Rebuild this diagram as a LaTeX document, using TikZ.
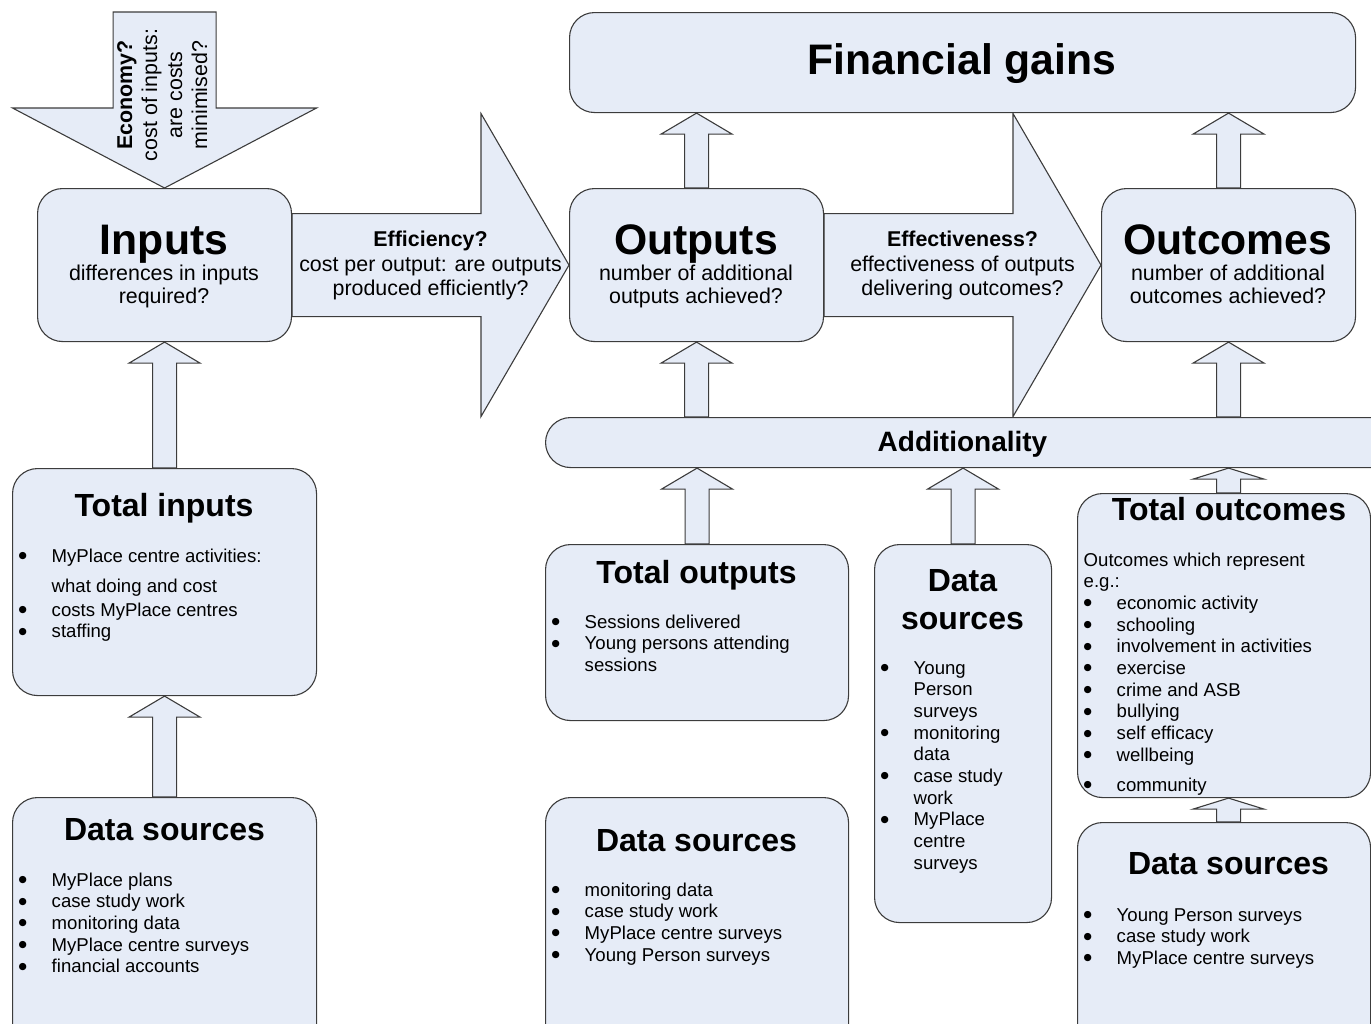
\documentclass[tikz,border=0pt]{standalone}
\usepackage{fontspec}
\setmainfont{Liberation Sans}
\newfontfamily\symfont{DejaVu Sans}
\usepackage{xcolor}
\usepackage{tikz}
\usetikzlibrary{positioning,calc,backgrounds}
\definecolor{clrFill}{HTML}{E6ECF7}
\definecolor{clrLine}{HTML}{3C3C3C}
\newcommand{\bul}{\makebox[33pt][l]{\raisebox{3.6pt}{\symfont\fontsize{9.5}{10}\selectfont ●}}}
\newcommand{\ind}{\hspace*{33pt}}
\newcommand{\stack}[1]{\begin{tabular}[t]{@{}c@{}}#1\end{tabular}}
\newcommand{\blist}[1]{\begin{tabular}[t]{@{}l@{}}#1\end{tabular}}
% Blockpfeil nach oben: #2 Spitze, #3 Fuss, #1 Kopfhoehe
\newcommand{\blockup}[3][21]{%
  \draw[blk] (#2) -- ++(35.5,#1) -- ++(-23.5,0)
    -- ($(#3 -| #2)+(12,0)$) -- ($(#3 -| #2)+(-12,0)$)
    -- ($(#2)+(-12,#1)$) -- ++(-23.5,0) -- cycle;}
% Blockpfeil nach rechts: von #1 bis Spitze #2
\newcommand{\blockright}[2]{%
  \draw[blk] ($(#1)+(0,-51.5)$) -- ($(#2)+(-88,-51.5)$) -- ++(0,-100)
    -- (#2) -- ($(#2)+(-88,151.5)$) -- ++(0,-100)
    -- ($(#1)+(0,51.5)$) -- cycle;}
\tikzset{
  box/.style={rectangle, rounded corners=25pt, draw=clrLine, line width=1.1pt,
    fill=clrFill, anchor=north west, inner sep=0pt},
  blk/.style={draw=clrLine, line width=1.1pt, fill=clrFill},
  bigttl/.style={font=\fontsize{42.7}{48}\selectfont\bfseries, anchor=base, inner sep=0pt},
  ttl/.style={font=\fontsize{32}{38}\selectfont\bfseries, anchor=base, inner sep=0pt},
  midttl/.style={font=\fontsize{28}{32}\selectfont\bfseries, anchor=base, inner sep=0pt},
  sub/.style={font=\fontsize{21.4}{23}\selectfont, anchor=base, inner sep=0pt},
  arrtxt/.style={font=\fontsize{21.4}{24.5}\selectfont, inner sep=0pt},
  lst/.style={font=\fontsize{18.6}{21.7}\selectfont, anchor=base west, inner sep=0pt},
}
\begin{document}
\begin{tikzpicture}[x=1pt, y=-1pt]
\useasboundingbox (0,0) rectangle (1371,1023);
\clip (0,0) rectangle (1371,1023);

% obere Reihe
\node[box, minimum width=786pt, minimum height=100pt] (fin)  at (569,12)  {};
\node[box, minimum width=254pt, minimum height=153pt] (inp)  at (37,188)  {};
\node[box, minimum width=254pt, minimum height=153pt] (outp) at (569,188) {};
\node[box, minimum width=254pt, minimum height=153pt] (outc) at (1101,188) {};
\node[box, minimum width=860pt, minimum height=50pt]  (add)  at (545,417) {};

% untere Kaesten
\node[box, minimum width=304pt, minimum height=227pt] (tin)  at (12,468)  {};
\node[box, minimum width=304pt, minimum height=260pt] (dsl)  at (12,797)  {};
\node[box, minimum width=303pt, minimum height=176pt] (tout) at (545,544) {};
\node[box, minimum width=303pt, minimum height=260pt] (dsm)  at (545,797) {};
\node[box, minimum width=177pt, minimum height=378pt] (dsn)  at (874,544) {};
\node[box, minimum width=293pt, minimum height=304pt] (tocm) at (1077,493) {};
\node[box, minimum width=293pt, minimum height=250pt] (dsr)  at (1077,822) {};

\coordinate (tFo) at (fin.south -| outp.north);
\coordinate (tFc) at (fin.south -| outc.north);
\coordinate (tAo) at (add.north -| outp.south);
\coordinate (tAc) at (add.north -| outc.south);
\coordinate (tBo) at (add.south -| tout.north);
\coordinate (tBn) at (add.south -| dsn.north);
\coordinate (tBc) at (add.south -| outc.south);
\coordinate (tTc) at (tocm.south -| outc.south);

\begin{scope}[on background layer]
  % Economy-Pfeil nach unten
  \draw[blk] (inp.north) -- ++(152,-80) -- ++(-100.5,0) -- ++(0,-96)
    -- ++(-103,0) -- ++(0,96) -- ++(-100.5,0) -- cycle;
  \blockright{inp.east}{outp.west}
  \blockright{outp.east}{outc.west}
  \blockup{inp.south}{tin.north}
  \blockup{tin.south}{dsl.north}
  \blockup{tFo}{outp.north}
  \blockup{tFc}{outc.north}
  \blockup{outp.south}{tAo}
  \blockup{outc.south}{tAc}
  \blockup{tBo}{tout.north}
  \blockup{tBn}{dsn.north}
  \blockup[11]{tBc}{tocm.north}
  \blockup[11]{tTc}{dsr.north}
\end{scope}

% Texte in den Pfeilen
\node[arrtxt, font=\fontsize{21.4}{25}\selectfont, rotate=90] (econ)
  at ($(inp.north)+(0,-93)$)
  {\stack{\textbf{Economy?}\\cost of inputs:\\are costs\\minimised?}};
\node[arrtxt] (effy) at ($(inp.east)!0.5!(outp.west)+(0,1.5)$)
  {\stack{\textbf{Efficiency?}\\cost per output: are outputs\\produced efficiently?}};
\node[arrtxt] (effv) at ($(outp.east)!0.5!(outc.west)+(0,1.5)$)
  {\stack{\textbf{Effectiveness?}\\effectiveness of outputs\\delivering outcomes?}};

% Ueberschriften oben
\node[bigttl] (finT)  at (962,74)  {Financial gains};
\node[bigttl] (inpT)  at (164,254) {Inputs};
\node[sub]    (inpS)  at (164,280) {\stack{differences in inputs\\required?}};
\node[bigttl] (outpT) at (696,254) {Outputs};
\node[sub]    (outpS) at (696,280) {\stack{number of additional\\outputs achieved?}};
\node[bigttl] (outcT) at (1228,254) {Outcomes};
\node[sub]    (outcS) at (1228,280) {\stack{number of additional\\outcomes achieved?}};
\node[midttl] (addT)  at (962.5,451) {Additionality};

% linke Spalte
\node[ttl] (tinT) at (164,516) {Total inputs};
\node[lst] (tinL) at (18.5,562) {\blist{%
  \bul MyPlace centre activities:\\[8.3pt]
  \ind what doing and cost\\[2.3pt]
  \bul costs MyPlace centres\\
  \bul staffing}};
\node[ttl] (dslT) at (164.5,840) {Data sources};
\node[lst] (dslL) at (18.5,886) {\blist{%
  \bul MyPlace plans\\
  \bul case study work\\
  \bul monitoring data\\
  \bul MyPlace centre surveys\\
  \bul financial accounts}};

% mittlere Spalten
\node[ttl] (toutT) at (696.5,583) {Total outputs};
\node[lst] (toutL) at (551.5,628) {\blist{%
  \bul Sessions delivered\\
  \bul Young persons attending\\
  \ind sessions}};
\node[ttl] (dsmT) at (696.5,851) {Data sources};
\node[lst] (dsmL) at (551.5,896) {\blist{%
  \bul monitoring data\\
  \bul case study work\\
  \bul MyPlace centre surveys\\
  \bul Young Person surveys}};
\node[ttl] (dsnT) at (962.5,591) {\stack{Data\\sources}};
\node[lst] (dsnL) at (880.5,674) {\blist{%
  \bul Young\\ \ind Person\\ \ind surveys\\
  \bul monitoring\\ \ind data\\
  \bul case study\\ \ind work\\
  \bul MyPlace\\ \ind centre\\ \ind surveys}};

% rechte Spalte
\node[ttl] (tocmT) at (1229,520) {Total outcomes};
\node[lst] (tocmL) at (1083.5,566) {\blist{%
  Outcomes which represent\\
  e.g.:\\
  \bul economic activity\\
  \bul schooling\\
  \bul involvement in activities\\
  \bul exercise\\
  \bul crime and ASB\\
  \bul bullying\\
  \bul self efficacy\\
  \bul wellbeing\\[8.3pt]
  \bul community}};
\node[ttl] (dsrT) at (1228.5,874) {Data sources};
\node[lst] (dsrL) at (1083.5,921) {\blist{%
  \bul Young Person surveys\\
  \bul case study work\\
  \bul MyPlace centre surveys}};

\end{tikzpicture}
\end{document}
